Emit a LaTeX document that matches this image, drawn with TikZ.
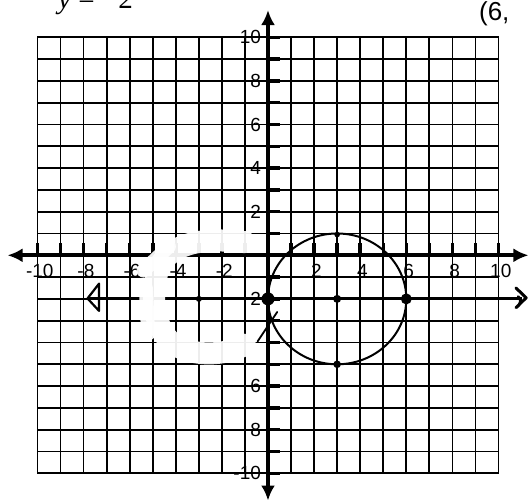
\documentclass[tikz,border=0pt]{standalone}
\usepackage{fontspec}
\setmainfont{Liberation Sans}
\newfontfamily\serifface{Liberation Serif}
\usetikzlibrary{arrows.meta}
\begin{document}
\begin{tikzpicture}[x=23.05pt, y=21.8pt,
  gridline/.style={line width=1.8pt, black},
  axisline/.style={line width=4pt, {Latex[length=15pt,width=14pt]}-{Latex[length=15pt,width=14pt]}},
  tickmark/.style={line width=3.5pt},
  lbl/.style={font=\fontsize{19}{19}\selectfont, inner sep=0pt},
  ylbl/.style={lbl, anchor=east},
  smear/.style={white, opacity=0.93, line width=22pt, line cap=round, line join=round},
  handline/.style={line width=2.2pt, line cap=round, line join=round},
  dotmark/.style={fill=black}]
\useasboundingbox (-11.627,-11.317) rectangle (11.280,11.711);
% grid
\foreach \i in {-10,...,10} {
  \draw[gridline] (\i,-10) -- (\i,10);
  \draw[gridline] (-10,\i) -- (10,\i);
}
% heavier line y = -2
\coordinate (hl) at (-7.85,-2);
\coordinate (hr) at (11.0,-2);
\draw[line width=3pt] (hl) -- (hr);
% axes
\coordinate (xl) at (-11.3,0);
\coordinate (xr) at (11.3,0);
\coordinate (yb) at (0,-11.25);
\coordinate (yt) at (0,11.25);
\draw[axisline] (xl) -- (xr);
\draw[axisline] (yb) -- (yt);
% ticks
\foreach \i in {-10,...,-1,1,2,...,10} {
  \draw[tickmark] (\i,0) -- ++(0,0.55);
  \draw[tickmark] (0,\i) -- ++(0.5,0);
}
% x labels
\foreach \i in {-10,-8,-6,-4,-2,2,4,6,8,10} {
  \node[lbl] (xlab\i) at (\i+0.1,-0.7) {\i};
}
% y labels
\foreach \i/\t in {10/10,8/8,6/6,4/4,2/2,-2/2,-6/6,-8/8,-10/-10} {
  \node[ylbl] (ylab\i) at (-0.3,\i) {\t};
}
% erased (white) smear
\draw[smear] (-1.0,0.6) .. controls (-2.5,0.8) and (-4.2,0.7) .. (-4.75,-0.6)
  .. controls (-5.1,-1.8) and (-5.0,-3.2) .. (-4.2,-4.0)
  .. controls (-3.3,-4.7) and (-1.8,-4.6) .. (-1.0,-4.1);
\draw[smear, line width=14pt] (-5.4,-0.7) -- (-4.3,0.4);
\draw[smear, line width=14pt] (-5.3,-1.5) -- (-5.2,-3.6);
% circle
\coordinate (c) at (3,-2);
\draw[line width=2pt] (c) ellipse [x radius=3, y radius=3];
\draw[handline, line width=1.8pt] (0.4,-2.6) -- (-0.45,-3.95);
% points
\fill[dotmark] (0,-2) circle [radius=6.5pt];
\fill[dotmark] (6,-2) circle [radius=5.5pt];
\fill[dotmark] (c) circle [radius=4pt];
\fill[dotmark] (-3,-2) circle [radius=3pt];
\fill[dotmark] (3,-5) circle [radius=3.8pt];
\fill[dotmark] (3,0.95) circle [radius=2.8pt];
% hand-drawn arrow ends
\draw[handline] (-7.33,-1.3) -- (-7.83,-1.98) -- (-7.33,-2.55) -- cycle;
\draw[handline, line width=3pt] (10.76,-1.5) -- (11.2,-1.95) -- (10.76,-2.4)
  .. controls (10.95,-2.3) and (11.05,-2.0) .. (10.85,-1.9);
% texts
\node[anchor=base west, inner sep=0pt, font=\serifface\fontsize{29}{29}\selectfont] (eq) at (-9.11,11.3) {\textit{y} = −2};
\node[anchor=base west, inner sep=0pt, font=\fontsize{26}{26}\selectfont] (pt) at (9.15,10.75) {(6,};
\end{tikzpicture}
\end{document}
